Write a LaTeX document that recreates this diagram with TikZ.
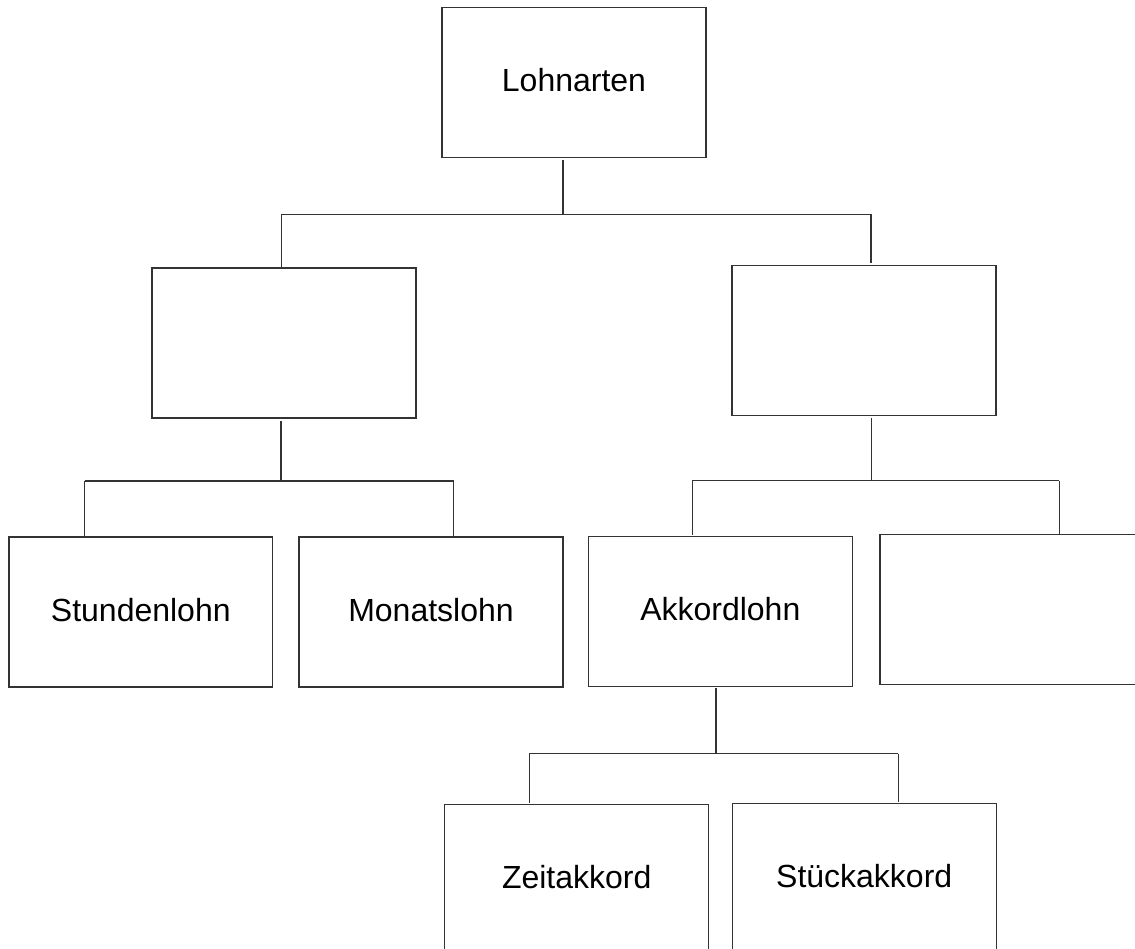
\documentclass[tikz,border=0pt]{standalone}
\usepackage{fontspec}
\setmainfont{Liberation Sans}
\usetikzlibrary{calc}
\tikzset{
  box/.style={draw=black!80, line width=1.2pt, rectangle, minimum width=264pt,
    minimum height=150pt, inner sep=0pt, outer sep=0pt,
    font=\fontsize{32}{38}\selectfont, text height=24pt, text depth=6pt},
  conn/.style={draw=black!80, line width=1.2pt}
}
\begin{document}
\begin{tikzpicture}[x=1pt,y=-1pt]
\useasboundingbox (0,0) rectangle (1135,948);
\clip (0,0) rectangle (1135,948);
% boxes
\node[box] (lohn)   at (574,82.3)   {Lohnarten};
\node[box] (zw1)    at (284,343)    {};
\node[box] (zw2)    at (864,340.8)  {};
\node[box, minimum width=263.6pt] (stunden) at (140.8,612) {Stundenlohn};
\node[box] (monat)  at (431,612)    {Monatslohn};
\node[box] (akkord) at (720.3,611.4){Akkordlohn};
\node[box] (leer)   at (1012,609.6) {};
\node[box] (zeit)   at (576.7,879.3){Zeitakkord};
\node[box] (stueck) at (864.2,878.7){Stückakkord};
% junctions
\coordinate (j1)  at (563,214.3);
\coordinate (j1l) at (281.5,214.3);
\coordinate (j1r) at (871,214.3);
\coordinate (j2)  at (281,481);
\coordinate (j2l) at (84.7,481);
\coordinate (j2r) at (453.6,481);
\coordinate (j3)  at (871.3,480.7);
\coordinate (j3l) at (692.3,480.7);
\coordinate (j3r) at (1059.3,480.7);
\coordinate (j4)  at (716,753.7);
\coordinate (j4l) at (529.3,753.7);
\coordinate (j4r) at (898.3,753.7);
% level 1
\draw[conn] ($(lohn.south -| j1)+(0,-2.7pt)$) -- (j1);
\draw[conn] (j1l) -- (j1r);
\draw[conn] (j1l) -- (zw1.north -| j1l);
\draw[conn] (j1r) -- ($(zw2.north -| j1r)+(0,2.7pt)$);
% level 2 left
\draw[conn] ($(zw1.south -| j2)+(0,-3pt)$) -- (j2);
\draw[conn] (j2l) -- (j2r);
\draw[conn] (j2l) -- (stunden.north -| j2l);
\draw[conn] (j2r) -- (monat.north -| j2r);
% level 2 right
\draw[conn] ($(zw2.south -| j3)+(0,-2pt)$) -- (j3);
\draw[conn] (j3l) -- (j3r);
\draw[conn] (j3l) -- ($(akkord.north -| j3l)+(0,1.3pt)$);
\draw[conn] (j3r) -- ($(leer.north -| j3r)+(0,0.8pt)$);
% level 3
\draw[conn] ($(akkord.south -| j4)+(0,-2pt)$) -- (j4);
\draw[conn] (j4l) -- (j4r);
\draw[conn] (j4l) -- ($(zeit.north -| j4l)+(0,1.6pt)$);
\draw[conn] (j4r) -- ($(stueck.north -| j4r)+(0,2pt)$);
\end{tikzpicture}
\end{document}
